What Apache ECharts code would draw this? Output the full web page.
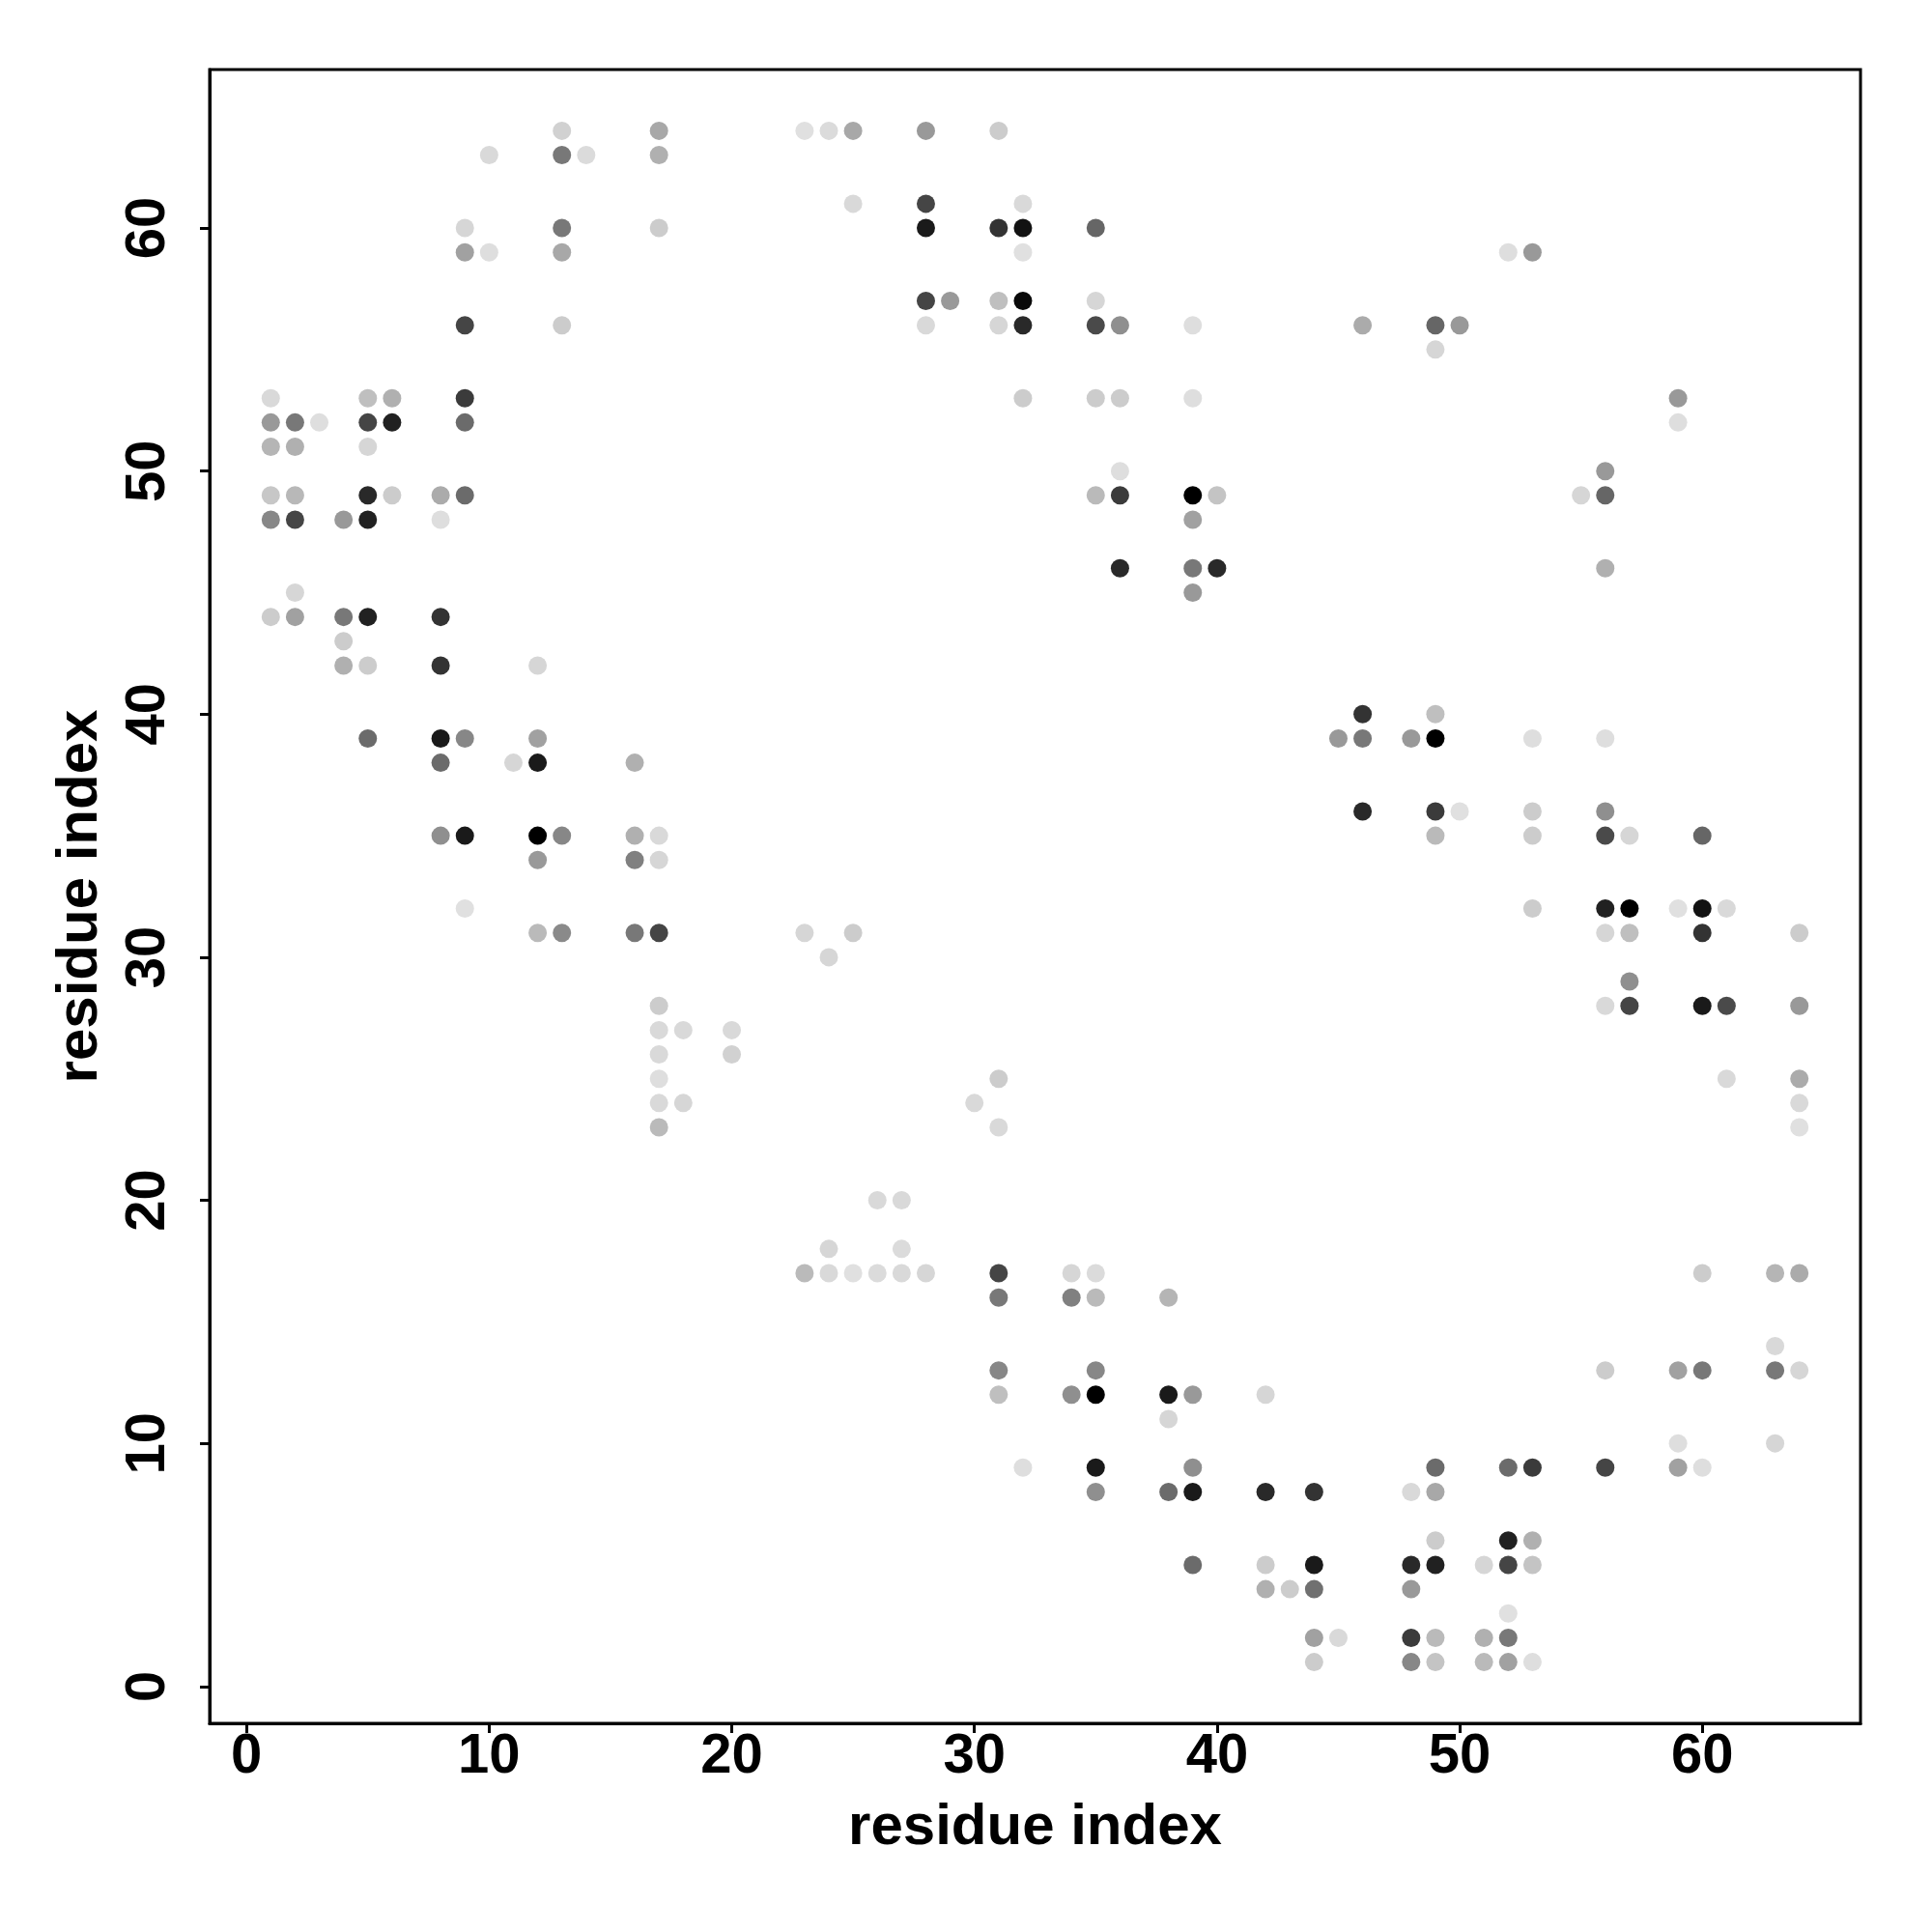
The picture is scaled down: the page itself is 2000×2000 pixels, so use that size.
<!DOCTYPE html>
<html>
<head>
<meta charset="utf-8">
<script src="https://cdn.jsdelivr.net/npm/echarts@6/dist/echarts.min.js"></script>
<style>
  html, body { margin: 0; padding: 0; background: #ffffff; }
  #chart { width: 2000px; height: 2000px; }
</style>
</head>
<body>
<div id="chart"></div>
<script>
// Contact map: residue i (x), residue j (y), contact strength (0..1, darker = stronger)
const resX = [
  13,17,23,24,25,28,31,
  10,13,14,17,
  25,28,32,
  9,13,17,28,31,32,35,
  9,10,13,32,52,53,
  28,29,31,32,35,
  9,13,28,31,32,35,36,39,46,49,50,
  49,
  1,5,6,9,32,35,36,39,59,
  1,2,3,5,6,9,59,
  1,2,5,
  36,56,
  1,2,5,6,8,9,35,36,39,40,55,56,
  1,2,4,5,8,39,
  36,39,40,56,
  2,39,
  1,2,4,5,8,
  4,
  4,5,8,12,
  46,49,
  5,8,9,12,45,46,48,49,53,56,
  8,11,12,16,
  46,49,50,53,56,
  8,9,12,13,16,17,49,53,56,57,60,
  12,16,17,
  9,53,56,57,59,60,61,
  12,13,16,17,23,25,56,57,60,64,
  24,
  57,
  17,56,57,60,61,64,
  17,18,20,
  17,20,
  17,31,61,64,
  17,18,30,64,
  17,31,64,
  26,27,
  24,27,
  23,24,25,26,27,28,31,34,35,60,63,64,
  31,34,35,38,
  63,
  31,35,56,59,60,63,64,
  31,34,35,38,39,42,
  38,
  59,63,
  32,35,39,49,52,53,56,59,60,
  35,38,39,42,44,48,49,
  49,52,53,
  39,42,44,48,49,51,52,53,
  42,43,44,48,
  52,
  44,45,48,49,51,52,
  44,48,49,51,52,53
];
const resY = [
  64,64,64,64,64,64,64,
  63,63,63,63,
  61,61,61,
  60,60,60,60,60,60,60,
  59,59,59,59,59,59,
  57,57,57,57,57,
  56,56,56,56,56,56,56,56,56,56,56,
  55,
  53,53,53,53,53,53,53,53,53,
  52,52,52,52,52,52,52,
  51,51,51,
  50,50,
  49,49,49,49,49,49,49,49,49,49,49,49,
  48,48,48,48,48,48,
  46,46,46,46,
  45,45,
  44,44,44,44,44,
  43,
  42,42,42,42,
  40,40,
  39,39,39,39,39,39,39,39,39,39,
  38,38,38,38,
  36,36,36,36,36,
  35,35,35,35,35,35,35,35,35,35,35,
  34,34,34,
  32,32,32,32,32,32,32,
  31,31,31,31,31,31,31,31,31,31,
  30,
  29,
  28,28,28,28,28,28,
  27,27,27,
  26,26,
  25,25,25,25,
  24,24,24,24,
  23,23,23,
  20,20,
  18,18,
  17,17,17,17,17,17,17,17,17,17,17,17,
  16,16,16,16,
  14,
  13,13,13,13,13,13,13,
  12,12,12,12,12,12,
  11,
  10,10,
  9,9,9,9,9,9,9,9,9,
  8,8,8,8,8,8,8,
  6,6,6,
  5,5,5,5,5,5,5,5,
  4,4,4,4,
  3,
  2,2,2,2,2,2,
  1,1,1,1,1,1
];
const strength = [
  .18,.34,.12,.14,.34,.40,.20,
  .15,.53,.14,.31,
  .15,.73,.15,
  .16,.53,.20,.90,.80,.93,.60,
  .37,.13,.34,.12,.13,.40,
  .73,.40,.25,.96,.16,
  .73,.20,.15,.16,.84,.71,.44,.13,.33,.60,.40,
  .16,
  .15,.25,.31,.77,.20,.20,.20,.13,.40,
  .40,.53,.13,.73,.87,.58,.13,
  .29,.31,.16,
  .13,.40,
  .22,.28,.84,.20,.33,.58,.27,.77,1.0,.23,.16,.60,
  .47,.73,.40,.87,.13,.37,
  .84,.53,.84,.31,
  .16,.40,
  .20,.37,.53,.87,.80,
  .20,
  .31,.20,.80,.16,
  .80,.25,
  .58,.90,.47,.37,.40,.53,.40,1.0,.13,.13,
  .58,.16,.90,.31,
  .84,.77,.12,.20,.44,
  .44,.90,1.0,.47,.31,.15,.27,.20,.71,.16,.60,
  .40,.50,.16,
  .12,.20,.87,1.0,.12,.93,.15,
  .27,.46,.53,.73,.16,.20,.16,.25,.80,.20,
  .16,
  .44,
  .20,.15,.73,.90,.71,.40,
  .15,.15,.15,
  .15,.18,
  .13,.20,.15,.33,
  .15,.16,.15,.15,
  .27,.15,.12,
  .15,.15,
  .16,.14,
  .27,.15,.12,.14,.15,.16,.73,.16,.14,.20,.29,.33,
  .53,.50,.27,.29,
  .15,
  .47,.47,.20,.37,.53,.53,.16,
  .25,.44,1.0,.90,.40,.16,
  .16,
  .13,.16,
  .13,.90,.44,.58,.58,.77,.73,.37,.13,
  .44,.58,.90,.84,.80,.15,.34,
  .20,.87,.31,
  .58,.20,.90,.84,.87,.16,.73,.23,
  .31,.20,.56,.40,
  .12,
  .37,.15,.77,.27,.31,.53,
  .20,.47,.23,.27,.37,.13
];
const tickValues = [0, 10, 20, 30, 40, 50, 60];
const axisTitleX = 'residue index';
const axisTitleY = 'residue index';

const points = resX.map((x, i) => [x, resY[i], strength[i]]);

const FONT = '"Liberation Sans", Arial, Helvetica, sans-serif';
const chart = echarts.init(document.getElementById('chart'), null, { renderer: 'canvas' });

function makeAxis(name, isY) {
  return {
    type: 'value',
    min: -1.52,
    max: 66.52,
    name: name,
    nameLocation: 'middle',
    nameGap: isY ? 104 : 78,
    nameRotate: isY ? 90 : 0,
    nameTextStyle: { fontFamily: FONT, fontSize: 60, fontWeight: 'bold', color: '#000' },
    axisLine: { show: true, onZero: false, lineStyle: { color: '#000', width: 3 } },
    axisTick: { show: true, length: 10, inside: false, lineStyle: { color: '#000', width: 3 }, customValues: tickValues },
    axisLabel: {
      show: true,
      customValues: tickValues,
      rotate: isY ? 90 : 0,
      margin: isY ? 34 : 6,
      fontFamily: FONT,
      fontSize: 58,
      fontWeight: 'bold',
      color: '#000'
    },
    splitLine: { show: false }
  };
}

chart.setOption({
  backgroundColor: '#ffffff',
  animation: false,
  grid: {
    left: 217, top: 72, right: 74, bottom: 216,
    show: true, borderColor: '#000', borderWidth: 3, backgroundColor: 'transparent'
  },
  xAxis: makeAxis(axisTitleX, false),
  yAxis: makeAxis(axisTitleY, true),
  visualMap: {
    show: false,
    type: 'continuous',
    dimension: 2,
    min: 0,
    max: 1,
    inRange: { color: ['#ffffff', '#000000'] }
  },
  series: [{
    type: 'scatter',
    data: points,
    symbol: 'circle',
    symbolSize: 19,
    itemStyle: { opacity: 1 }
  }]
});
</script>
</body>
</html>
